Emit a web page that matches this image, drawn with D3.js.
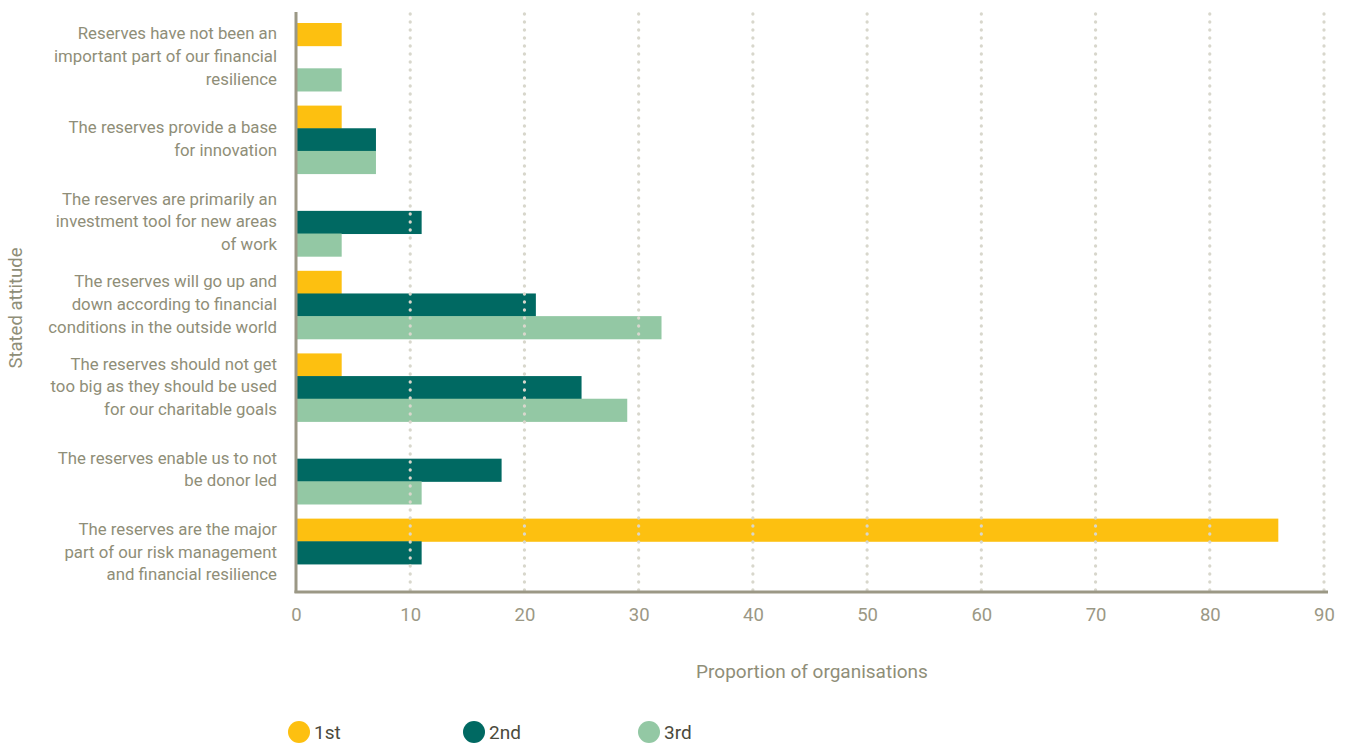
<!DOCTYPE html>
<html>
<head>
<meta charset="utf-8">
<script src="https://cdn.jsdelivr.net/npm/d3@7"></script>
<style>
  html, body { margin: 0; padding: 0; background: #fff; }
  svg { display: block; font-family: Roboto, "Noto Sans", sans-serif; }
</style>
</head>
<body>
<svg id="chart" width="1349" height="745"></svg>
<script>
// Attitudes towards reserves, each label split into its display lines
const categories = [
  ["Reserves have not been an", "important part of our financial", "resilience"],
  ["The reserves provide a base", "for innovation"],
  ["The reserves are primarily an", "investment tool for new areas", "of work"],
  ["The reserves will go up and", "down according to financial", "conditions in the outside world"],
  ["The reserves should not get", "too big as they should be used", "for our charitable goals"],
  ["The reserves enable us to not", "be donor led"],
  ["The reserves are the major", "part of our risk management", "and financial resilience"]
];
const seriesNames = ["1st", "2nd", "3rd"];
const firstValues  = [4, 4, 0, 4, 4, 0, 86];
const secondValues = [0, 7, 11, 21, 25, 18, 11];
const thirdValues  = [4, 7, 4, 32, 29, 11, 0];
const xTicks = [0, 10, 20, 30, 40, 50, 60, 70, 80, 90];
const colors = ["#fdc010", "#006962", "#93c8a4"];

const seriesValues = [firstValues, secondValues, thirdValues];
const svg = d3.select("#chart");

const plot = { left: 296, right: 1324, top: 12, bottom: 592 };

const x = d3.scaleLinear().domain([0, 90]).range([plot.left, plot.right]);
const y = d3.scaleBand()
  .domain(d3.range(categories.length))
  .range([23, 586.6])
  .paddingInner(0.177)
  .paddingOuter(0);
const ySub = d3.scaleBand().domain(d3.range(seriesNames.length)).range([0, y.bandwidth()]);

const textGray = "#8f8e78";
const axisColor = "#9b9885";

// Bars
const groups = svg.append("g").selectAll("g")
  .data(categories.map((c, i) => i))
  .join("g")
  .attr("transform", i => `translate(0,${y(i)})`);

groups.selectAll("rect")
  .data(i => seriesValues.map((vals, s) => ({ s, v: vals[i] })).filter(d => d.v > 0))
  .join("rect")
  .attr("x", x(0))
  .attr("y", d => ySub(d.s))
  .attr("width", d => x(d.v) - x(0))
  .attr("height", ySub.bandwidth() + 0.5)
  .attr("fill", d => colors[d.s]);

// Dotted vertical gridlines, drawn over the bars
svg.append("g").selectAll("line")
  .data(xTicks.filter(t => t > 0))
  .join("line")
  .attr("x1", d => x(d)).attr("x2", d => x(d))
  .attr("y1", plot.top + 2).attr("y2", plot.bottom)
  .attr("stroke", "#d8d7cc")
  .attr("stroke-width", 3.3)
  .attr("stroke-linecap", "round")
  .attr("stroke-dasharray", "0 8");

// Axis lines
svg.append("line")
  .attr("x1", plot.left).attr("x2", plot.left)
  .attr("y1", plot.top).attr("y2", plot.bottom + 1)
  .attr("stroke", axisColor).attr("stroke-width", 3);
svg.append("line")
  .attr("x1", plot.left - 1.5).attr("x2", plot.right + 4)
  .attr("y1", plot.bottom).attr("y2", plot.bottom)
  .attr("stroke", axisColor).attr("stroke-width", 3);

// X tick labels
const xAxis = d3.axisBottom(x).tickValues(xTicks).tickSize(0).tickPadding(0);
const gx = svg.append("g").attr("transform", `translate(0,${plot.bottom + 29})`).call(xAxis);
gx.select(".domain").remove();
gx.selectAll("text")
  .attr("dy", 0)
  .attr("fill", axisColor)
  .style("font-size", "18.5px")
  .style("font-family", "Roboto, sans-serif");

// Category labels
const lineH = 22.7;
svg.append("g").selectAll("text")
  .data(categories.map((lines, i) => ({ lines, i })))
  .join("text")
  .attr("text-anchor", "end")
  .attr("fill", textGray)
  .style("font-size", "16.8px")
  .each(function(d) {
    const cy = y(d.i) + y.bandwidth() / 2;
    const start = cy - (d.lines.length - 1) * lineH / 2;
    d3.select(this).selectAll("tspan")
      .data(d.lines)
      .join("tspan")
      .attr("x", 277)
      .attr("y", (l, k) => start + k * lineH - 1)
      .attr("dy", "0.36em")
      .text(l => l);
  });

// Axis titles
svg.append("text")
  .attr("x", (plot.left + plot.right) / 2 + 2)
  .attr("y", 678)
  .attr("text-anchor", "middle")
  .attr("fill", textGray)
  .style("font-size", "19px")
  .text("Proportion of organisations");

svg.append("text")
  .attr("transform", `translate(22,${(plot.top + plot.bottom) / 2 + 6}) rotate(-90)`)
  .attr("text-anchor", "middle")
  .attr("fill", textGray)
  .style("font-size", "18.5px")
  .text("Stated attitude");

// Legend
const legend = svg.append("g").selectAll("g")
  .data(seriesNames)
  .join("g")
  .attr("transform", (d, i) => `translate(${299 + i * 175},732)`);
legend.append("circle").attr("r", 11).attr("fill", (d, i) => colors[i]);
legend.append("text")
  .attr("x", 15).attr("dy", "0.36em")
  .attr("fill", "#4b4a3c")
  .style("font-size", "19px")
  .text(d => d);
</script>
</body>
</html>
